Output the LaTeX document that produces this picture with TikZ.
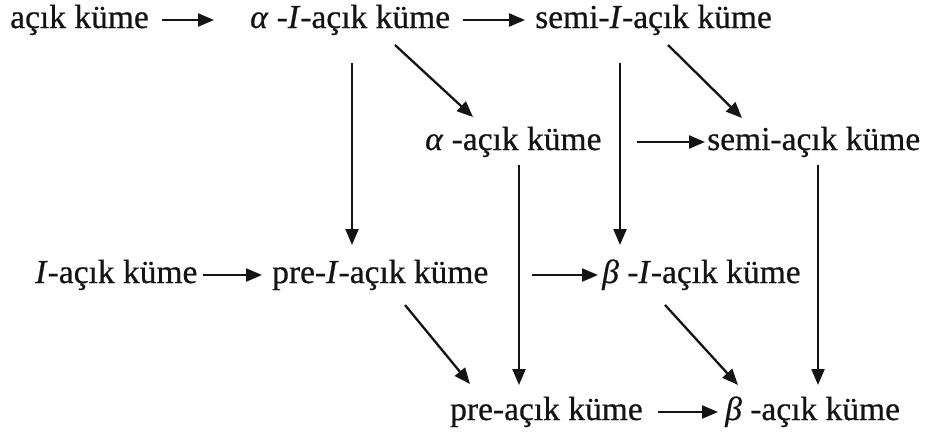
\documentclass[tikz,border=0pt]{standalone}
\usepackage{fontspec}
\setmainfont{Liberation Serif}[FakeBold=0.6, ItalicFeatures={FakeBold=0.6}]
\usetikzlibrary{arrows.meta}
\begin{document}
\begin{tikzpicture}[x=1pt,y=-1pt,
  lbl/.style={inner sep=0pt, anchor=base west, text=black!92,
              font=\fontsize{33.5}{40}\selectfont},
  arr/.style={line width=2.3pt, black!92,
              -{Triangle[length=16pt,width=13pt]}}]
\fill[white] (0,0) rectangle (933,434);
\useasboundingbox (0,0) rectangle (933,434);

% sets
\node[lbl] (acik)   at (10,28)  {açık küme};
\node[lbl] (aI)     at (250,28) {\textit{α} -\textit{I}-açık küme};
\node[lbl] (semiI)  at (535,28) {semi-\textit{I}-açık küme};
\node[lbl] (alpha)  at (425,150) {\textit{α} -açık küme};
\node[lbl] (semi)   at (707,150) {semi-açık küme};
\node[lbl] (I)      at (35,283) {\textit{I}-açık küme};
\node[lbl] (preI)   at (272,283) {pre-\textit{I}-açık küme};
\node[lbl] (bI)     at (602,283) {\textit{β} -\textit{I}-açık küme};
\node[lbl] (pre)    at (450,420) {pre-açık küme};
\node[lbl] (beta)   at (725,420) {\textit{β} -açık küme};

% horizontal implications
\draw[arr] ([xshift=13pt,yshift=8pt]acik.base east) -- ([xshift=-36pt,yshift=8pt]aI.base west);
\draw[arr] ([xshift=13pt,yshift=8pt]aI.base east) -- ([xshift=-10pt,yshift=8pt]semiI.base west);
\draw[arr] ([xshift=35pt,yshift=8pt]alpha.base east) -- ([xshift=-2pt,yshift=8pt]semi.base west);
\draw[arr] ([xshift=5pt,yshift=8pt]I.base east) -- ([xshift=-10pt,yshift=8pt]preI.base west);
\draw[arr] ([xshift=43pt,yshift=8pt]preI.base east) -- ([xshift=-4pt,yshift=8pt]bI.base west);
\draw[arr] ([xshift=15pt,yshift=8pt]pre.base east) -- ([xshift=-7pt,yshift=8pt]beta.base west);

% vertical implications
\draw[arr] ([xshift=102pt,yshift=-35pt]aI.base west) -- ([xshift=80pt,yshift=38pt]preI.base west);
\draw[arr] ([xshift=85pt,yshift=-35pt]semiI.base west) -- ([xshift=18pt,yshift=38pt]bI.base west);
\draw[arr] ([xshift=94pt,yshift=-15pt]alpha.base west) -- ([xshift=69pt,yshift=35pt]pre.base west);
\draw[arr] ([xshift=111pt,yshift=-15pt]semi.base west) -- ([xshift=93pt,yshift=35pt]beta.base west);

% diagonal implications
\draw[arr] ([xshift=145pt,yshift=-17pt]aI.base west) -- ([xshift=48pt,yshift=33pt]alpha.base west);
\draw[arr] ([xshift=133pt,yshift=-17pt]semiI.base west) -- ([xshift=35pt,yshift=32pt]semi.base west);
\draw[arr] ([xshift=133pt,yshift=-22pt]preI.base west) -- ([xshift=20pt,yshift=36pt]pre.base west);
\draw[arr] ([xshift=63pt,yshift=-22pt]bI.base west) -- ([xshift=13pt,yshift=35pt]beta.base west);
\end{tikzpicture}
\end{document}
